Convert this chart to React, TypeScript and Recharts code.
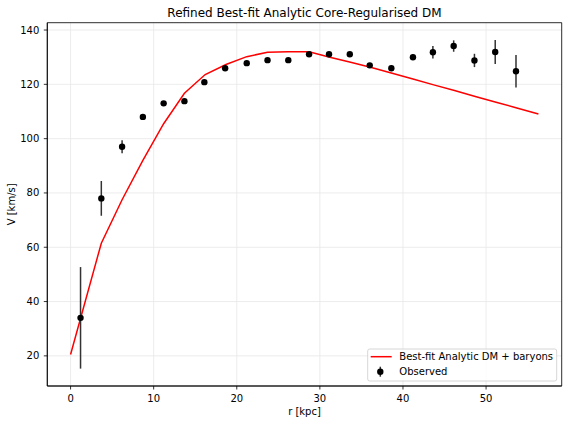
import React from 'react';
import {
  ComposedChart,
  Line,
  Scatter,
  ErrorBar,
  XAxis,
  YAxis,
  CartesianGrid,
  ReferenceArea,
} from 'recharts';

// Model curve (best-fit analytic DM + baryons)
const modelR = [0, 3.7, 6.2, 8.7, 11.2, 13.7, 16.2, 18.7, 21.2, 23.7, 26.2, 28.7, 31.2, 33.7, 36.2, 38.7, 41.2, 43.7, 46.2, 48.7, 51.2, 53.7, 56.3];
const modelV = [20.5, 61.5, 77.5, 92, 105.5, 116.7, 123.6, 127.3, 130.2, 131.8, 132, 132, 130, 128.1, 126.2, 124.1, 122, 119.8, 117.7, 115.5, 113.4, 111.3, 109.1];

// Observed rotation curve
const obsR = [1.2, 3.7, 6.2, 8.7, 11.2, 13.7, 16.1, 18.6, 21.2, 23.7, 26.2, 28.7, 31.1, 33.6, 36.0, 38.6, 41.2, 43.6, 46.1, 48.6, 51.1, 53.6];
const obsV = [34, 78, 97, 108, 113, 113.8, 120.8, 125.9, 127.8, 128.9, 128.9, 131.1, 131.1, 131.1, 127, 125.9, 130, 131.8, 134.1, 128.8, 131.9, 124.8];
const obsErr = [18.7, 6.4, 2.4, 0.8, 0.6, 0.6, 0.6, 0.6, 0.6, 0.6, 0.6, 0.6, 0.6, 0.6, 0.6, 1.0, 1.0, 2.3, 2.1, 2.45, 4.4, 6.0];

const xTicks = [0, 10, 20, 30, 40, 50];
const yTicks = [20, 40, 60, 80, 100, 120, 140];

const title = 'Refined Best-fit Analytic Core-Regularised DM';
const xLabel = 'r [kpc]';
const yLabel = 'V [km/s]';
const lineName = 'Best-fit Analytic DM + baryons';
const obsName = 'Observed';

const modelData = modelR.map((r, i) => ({ r, v: modelV[i] }));
const obsData = obsR.map((r, i) => ({ r, v: obsV[i], err: obsErr[i] }));

const X_DOMAIN: [number, number] = [-2.8, 59.1];
const Y_DOMAIN: [number, number] = [8.9, 142.7];

const FONT = 'DejaVu Sans, sans-serif';
const W = 568;
const H = 424;

const Dot = (props: any) => {
  const { cx, cy } = props;
  if (cx == null || cy == null) return null;
  return <circle cx={cx} cy={cy} r={3.2} fill="#000" />;
};

export default function App() {
  return (
    <div style={{ position: 'absolute', left: 0, top: 0, width: W, height: H, background: '#fff' }}>
      <ComposedChart
        width={W}
        height={H}
        margin={{ top: 22.7, right: 6.3, bottom: 0, left: 0 }}
        style={{ fontFamily: FONT }}
      >
        <CartesianGrid stroke="#e7e7e7" strokeWidth={0.8} />
        <XAxis
          dataKey="r"
          type="number"
          domain={X_DOMAIN}
          allowDataOverflow
          ticks={xTicks}
          height={38}
          tickSize={3.5}
          tickMargin={5}
          axisLine={{ stroke: '#000', strokeWidth: 0.8 }}
          tickLine={{ stroke: '#000', strokeWidth: 0.8 }}
          tick={{ fill: '#000', fontSize: 10, fontFamily: FONT }}
        />
        <YAxis
          type="number"
          domain={Y_DOMAIN}
          allowDataOverflow
          ticks={yTicks}
          width={47.3}
          tickSize={3.5}
          tickMargin={4.5}
          axisLine={{ stroke: '#000', strokeWidth: 0.8 }}
          tickLine={{ stroke: '#000', strokeWidth: 0.8 }}
          tick={{ fill: '#000', fontSize: 10, fontFamily: FONT }}
        />
        <ReferenceArea
          x1={X_DOMAIN[0]}
          x2={X_DOMAIN[1]}
          y1={Y_DOMAIN[0]}
          y2={Y_DOMAIN[1]}
          fill="none"
          stroke="#000"
          strokeWidth={0.8}
          ifOverflow="visible"
        />
        <Line
          data={modelData}
          dataKey="v"
          type="linear"
          stroke="#ff0000"
          strokeWidth={1.5}
          dot={false}
          activeDot={false}
          isAnimationActive={false}
        />
        <Scatter data={obsData} dataKey="v" shape={<Dot />} isAnimationActive={false}>
          <ErrorBar dataKey="err" direction="y" width={0} stroke="#333" strokeWidth={1.5} />
        </Scatter>
      </ComposedChart>
      <svg
        width={W}
        height={H}
        style={{ position: 'absolute', left: 0, top: 0, pointerEvents: 'none' }}
        fontFamily={FONT}
      >
        <text x={304.5} y={16.7} textAnchor="middle" fontSize={12} fill="#000">
          {title}
        </text>
        <text x={304.5} y={415} textAnchor="middle" fontSize={10} fill="#000">
          {xLabel}
        </text>
        <text
          x={15.3}
          y={204.35}
          textAnchor="middle"
          fontSize={10}
          fill="#000"
          transform="rotate(-90 15.3 204.35)"
        >
          {yLabel}
        </text>
        <g>
          <rect x={367.7} y={349} width={189} height={32} rx={2} fill="rgba(255,255,255,0.8)" stroke="#cccccc" strokeWidth={0.8} />
          <line x1={370.7} x2={391.7} y1={356.7} y2={356.7} stroke="#ff0000" strokeWidth={1.5} />
          <text x={399.3} y={360.3} fontSize={10} fill="#000">
            {lineName}
          </text>
          <line x1={380.3} x2={380.3} y1={366.7} y2={376.7} stroke="#333" strokeWidth={1.5} />
          <circle cx={380.3} cy={371.7} r={3.2} fill="#000" />
          <text x={399.3} y={375.3} fontSize={10} fill="#000">
            {obsName}
          </text>
        </g>
      </svg>
    </div>
  );
}
